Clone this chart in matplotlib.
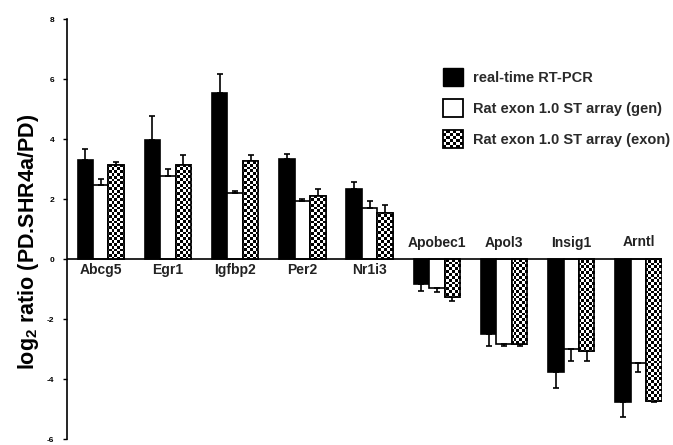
import numpy as np
import matplotlib
matplotlib.use("Agg")
import matplotlib.pyplot as plt
from matplotlib.patches import Rectangle, Patch
from matplotlib.legend_handler import HandlerBase

plt.rcParams['font.family'] = ['Liberation Sans', 'DejaVu Sans']
plt.rcParams['mathtext.default'] = 'regular'

genes = ["Abcg5", "Egr1", "Igfbp2", "Per2", "Nr1i3", "Apobec1", "Apol3", "Insig1", "Arntl"]
series = ["real-time RT-PCR", "Rat exon 1.0 ST array (gen)", "Rat exon 1.0 ST array (exon)"]

rtpcr = [3.29, 3.96, 5.54, 3.33, 2.34, -0.84, -2.50, -3.76, -4.78]
rtpcr_err = [0.37, 0.81, 0.64, 0.16, 0.24, 0.23, 0.40, 0.55, 0.50]
gen = [2.46, 2.77, 2.19, 1.93, 1.71, -0.98, -2.84, -3.00, -3.48]
gen_err = [0.22, 0.24, 0.08, 0.08, 0.22, 0.13, 0.05, 0.39, 0.28]
exon = [3.13, 3.12, 3.27, 2.10, 1.54, -1.28, -2.84, -3.06, -4.73]
exon_err = [0.10, 0.34, 0.20, 0.24, 0.25, 0.12, 0.06, 0.33, 0.02]

yticks = [8, 6, 4, 2, 0, -2, -4, -6]


class CheckerHandler(HandlerBase):
    def create_artists(self, legend, orig_handle, xdescent, ydescent,
                       width, height, fontsize, trans):
        arts = []
        n = 6
        cw, ch = width / n, height / n
        x0, y0 = -xdescent, -ydescent
        for i in range(n):
            for j in range(n):
                if (i + j) % 2 == 0:
                    arts.append(Rectangle((x0 + i * cw, y0 + j * ch), cw, ch,
                                          fc='black', lw=0, transform=trans))
        arts.append(Rectangle((x0, y0), width, height, fc='none', ec='black',
                              lw=1.3, transform=trans))
        return arts


fig = plt.figure(figsize=(6.73, 4.45), dpi=100)
ax = fig.add_axes([67 / 673, 6 / 445, 595 / 673, 420 / 445])

x = np.arange(len(genes))
w = 0.23
xlim = (-0.502, 8.35)
ylim = (-6, 8)
ax.set_xlim(*xlim)
ax.set_ylim(*ylim)


def one_sided(vals, errs):
    vals = np.array(vals)
    errs = np.array(errs)
    lower = np.where(vals < 0, errs, 0)
    upper = np.where(vals >= 0, errs, 0)
    return [lower, upper]


eb = dict(ecolor='black', elinewidth=1.2, capsize=2.5, capthick=1.2)

ax.bar(x - w, rtpcr, w, color='black', edgecolor='black', lw=1.2,
       yerr=one_sided(rtpcr, rtpcr_err), error_kw=eb, zorder=3)
ax.bar(x, gen, w, color='white', edgecolor='black', lw=1.2,
       yerr=one_sided(gen, gen_err), error_kw=eb, zorder=3)
ex_bars = ax.bar(x + w, exon, w, color='white', edgecolor='black', lw=1.2,
                 yerr=one_sided(exon, exon_err), error_kw=eb, zorder=3)

# checker fill for the exon bars
cell = 2.8
ny, nx = int(420 / cell), int(595 / cell)
checker = np.indices((ny, nx)).sum(0) % 2
for b in ex_bars:
    im = ax.imshow(checker, cmap='gray_r', extent=(*xlim, *ylim), aspect='auto',
                   interpolation='nearest', zorder=3.5, vmin=0, vmax=1)
    im.set_clip_path(b)
    r = Rectangle(b.get_xy(), b.get_width(), b.get_height(), fc='none',
                  ec='black', lw=1.2, zorder=4)
    ax.add_patch(r)
ax.set_xlim(*xlim)
ax.set_ylim(*ylim)

ax.axhline(0, color='black', lw=1.2, zorder=5)

for xi, g, v in zip(x, genes, rtpcr):
    yy = -0.38 if v >= 0 else 0.55
    ax.text(xi, yy, g, ha='center', va='center', fontsize=10, fontweight='bold',
            color='#222222')

for s in ['top', 'right', 'bottom']:
    ax.spines[s].set_visible(False)
ax.spines['left'].set_linewidth(1.2)
ax.set_xticks([])
ax.set_yticks(yticks)
ax.set_yticklabels([str(t) for t in yticks])
ax.tick_params(axis='y', direction='out', length=3, width=1, pad=6, labelsize=6)
for lab in ax.get_yticklabels():
    lab.set_fontweight('bold')

fig.text(29 / 673, 1 - 242 / 445, r'log$_2$ ratio (PD.SHR4a/PD)', rotation=90,
         ha='center', va='center', fontsize=15.5, fontweight='bold')

handles = [Patch(fc='black', ec='black'), Patch(fc='white', ec='black', lw=1.3),
           Patch(fc='white', ec='black')]
leg = fig.legend(handles, series, loc='upper left',
                 bbox_to_anchor=(443 / 673, 1 - 68 / 445),
                 bbox_transform=fig.transFigure, frameon=False, borderpad=0,
                 borderaxespad=0, fontsize=10.5, handlelength=1.37,
                 handleheight=1.5, labelspacing=0.9, handletextpad=0.7,
                 handler_map={handles[2]: CheckerHandler()})
for t in leg.get_texts():
    t.set_fontweight('bold')
    t.set_color('#2a2a2a')

fig.savefig('out.png', dpi=100)
